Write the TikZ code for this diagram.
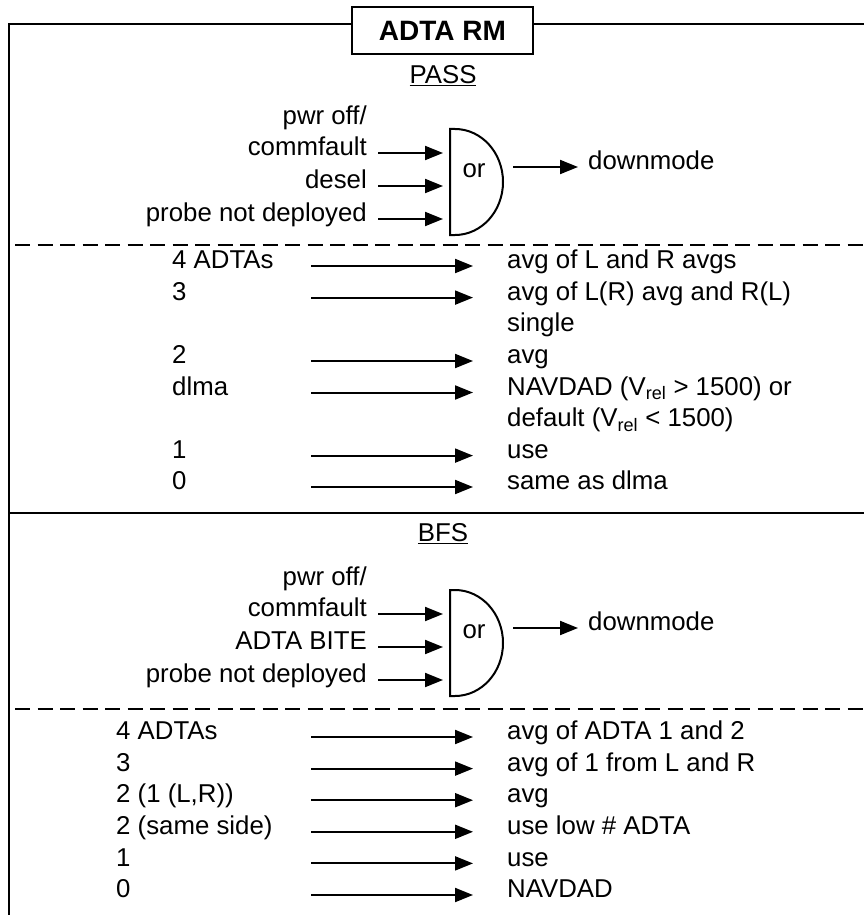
\documentclass[tikz,border=0pt]{standalone}
\usepackage{fontspec}
\setmainfont{Liberation Sans}
\usetikzlibrary{arrows.meta}
\newcommand{\vrel}{V\textsubscript{rel}}
\begin{document}
\begin{tikzpicture}[x=1pt,y=-1pt,
  font=\fontsize{25.8}{31}\selectfont,
  lbl/.style={inner sep=0pt,anchor=mid east},
  lft/.style={inner sep=0pt,anchor=mid west},
  rgt/.style={inner sep=0pt,anchor=mid west},
  arr/.style={-{Triangle[length=18pt,width=14pt]},line width=2pt},
  framel/.style={line width=1.3pt},
  dashl/.style={line width=1.3pt,dash pattern=on 15pt off 7.5pt,dash phase=-6pt},
  gate/.style={line width=2pt},
  sect/.style={inner sep=0pt,anchor=mid}]
\useasboundingbox (0,0) rectangle (864,915);
\clip (0,0) rectangle (864,915);
% frame
\draw[framel] (9,930) -- (9,24) -- (880,24);
\draw[framel] (9,513) -- (880,513);
\draw[dashl] (9,245) -- (880,245);
\draw[dashl] (9,709) -- (880,709);
\node[draw,fill=white,line width=1.3pt,minimum width=181pt,minimum height=47pt,
  font=\fontsize{28}{32}\selectfont\bfseries] (title) at (442.5,30.5) {ADTA RM};
% ---------------- PASS
\node[sect] (pass) at (443,81) {\underline{PASS}};
\draw[gate] (450,129) -- (455,129) arc[start angle=90,end angle=-90,x radius=48pt,y radius=53pt] -- (450,235) -- cycle;
\node[inner sep=0pt] (por) at (474,171) {or};
\node[lbl] (p0) at (367,122) {pwr off/};
\node[lbl] (p1) at (367,153) {commfault};
\node[lbl] (p2) at (367,186) {desel};
\node[lbl] (p3) at (367,219) {probe not deployed};
\coordinate (pg1) at (443,153);
\coordinate (pg2) at (443,186);
\coordinate (pg3) at (443,219);
\draw[arr] ([xshift=11pt]p1.mid east) -- (pg1);
\draw[arr] ([xshift=11pt]p2.mid east) -- (pg2);
\draw[arr] ([xshift=11pt]p3.mid east) -- (pg3);
\coordinate (pout) at (513,167);
\node[rgt] (pdm) at (588,167) {downmode};
\draw[arr,shorten >=10pt] (pout) -- (pdm.mid west);
% PASS table
\coordinate (xs) at (311,0);
\node[lft] (pl1) at (172,266) {4 ADTAs};
\node[lft] (pl2) at (172,297.6) {3};
\node[lft] (pl3) at (172,361) {2};
\node[lft] (pl4) at (172,392.5) {dlma};
\node[lft] (pl5) at (172,455.6) {1};
\node[lft] (pl6) at (172,487) {0};
\node[rgt] (pr1) at (507,266) {avg of L and R avgs};
\node[rgt] (pr2) at (507,297.6) {avg of L(R) avg and R(L)};
\node[rgt] (pr2b) at (507,329) {single};
\node[rgt] (pr3) at (507,361) {avg};
\node[rgt] (pr4) at (507,392.5) {NAVDAD (\vrel\ > 1500) or};
\node[rgt] (pr4b) at (507,424) {default (\vrel\ < 1500)};
\node[rgt] (pr5) at (507,455.6) {use};
\node[rgt] (pr6) at (507,487) {same as dlma};
\foreach \i in {1,...,6}{
  \draw[arr,shorten >=34pt] (pl\i.mid west -| xs) -- (pr\i.mid west);
}
% ---------------- BFS
\node[sect] (bfs) at (443,539) {\underline{BFS}};
\draw[gate] (450,590) -- (455,590) arc[start angle=90,end angle=-90,x radius=48pt,y radius=53pt] -- (450,696) -- cycle;
\node[inner sep=0pt] (bor) at (474,632) {or};
\node[lbl] (b0) at (367,583) {pwr off/};
\node[lbl] (b1) at (367,614) {commfault};
\node[lbl] (b2) at (367,647) {ADTA BITE};
\node[lbl] (b3) at (367,680) {probe not deployed};
\coordinate (bg1) at (443,614);
\coordinate (bg2) at (443,647);
\coordinate (bg3) at (443,680);
\draw[arr] ([xshift=11pt]b1.mid east) -- (bg1);
\draw[arr] ([xshift=11pt]b2.mid east) -- (bg2);
\draw[arr] ([xshift=11pt]b3.mid east) -- (bg3);
\coordinate (bout) at (513,628);
\node[rgt] (bdm) at (588,628) {downmode};
\draw[arr,shorten >=10pt] (bout) -- (bdm.mid west);
% BFS table
\node[lft] (bl1) at (116,737) {4 ADTAs};
\node[lft] (bl2) at (116,768.6) {3};
\node[lft] (bl3) at (116,800.2) {2 (1 (L,R))};
\node[lft] (bl4) at (116,831.8) {2 (same side)};
\node[lft] (bl5) at (116,863.4) {1};
\node[lft] (bl6) at (116,895) {0};
\node[rgt] (br1) at (507,737) {avg of ADTA 1 and 2};
\node[rgt] (br2) at (507,768.6) {avg of 1 from L and R};
\node[rgt] (br3) at (507,800.2) {avg};
\node[rgt] (br4) at (507,831.8) {use low \# ADTA};
\node[rgt] (br5) at (507,863.4) {use};
\node[rgt] (br6) at (507,895) {NAVDAD};
\foreach \i in {1,...,6}{
  \draw[arr,shorten >=34pt] (bl\i.mid west -| xs) -- (br\i.mid west);
}
\end{tikzpicture}
\end{document}
